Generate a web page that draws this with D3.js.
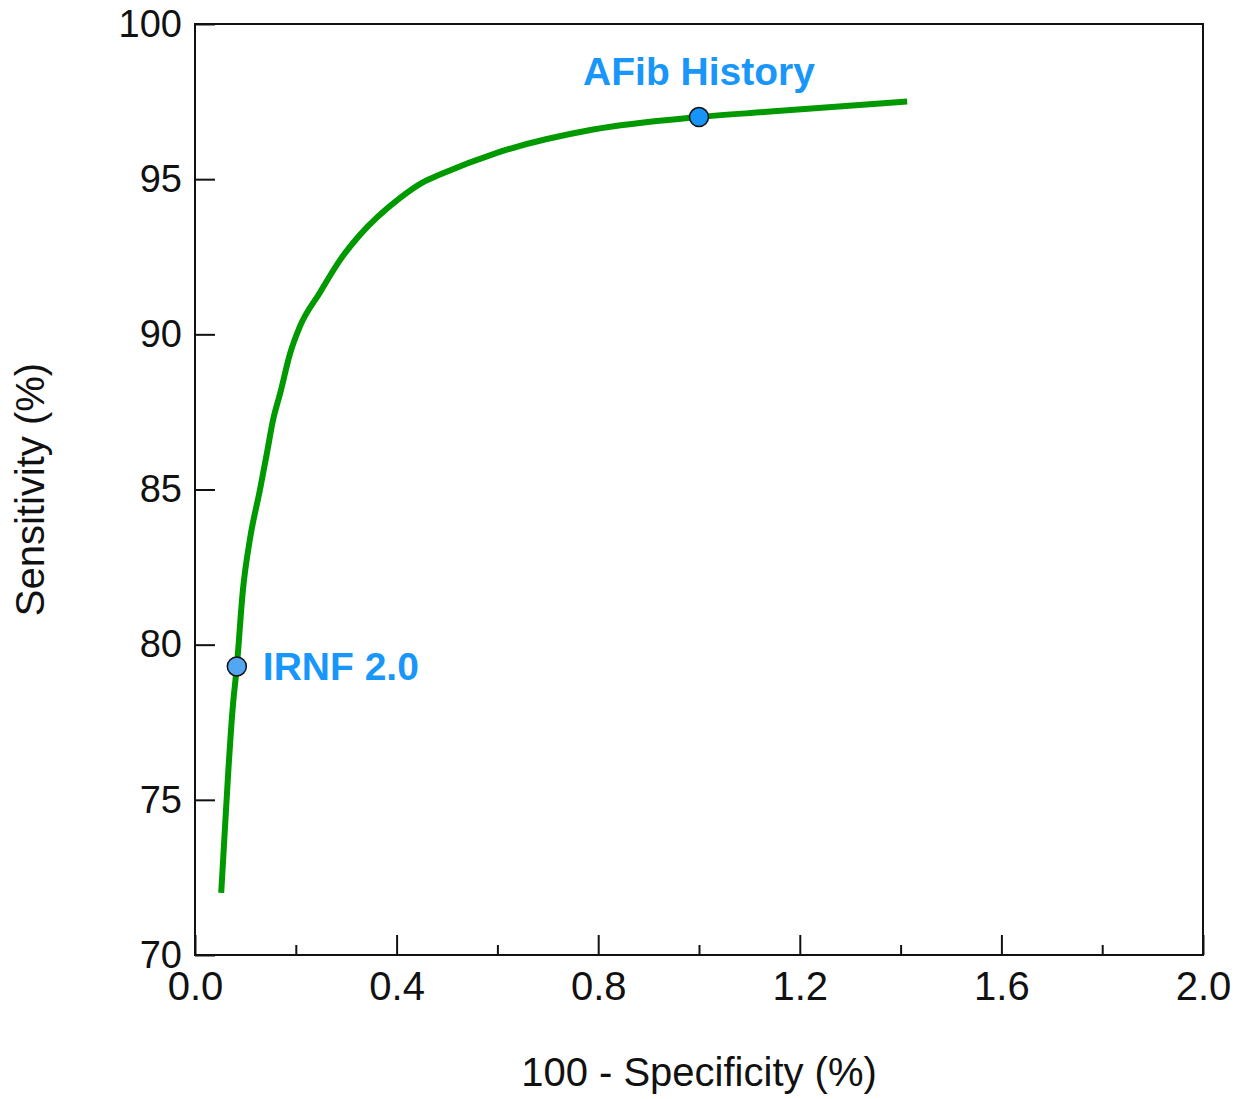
<!DOCTYPE html>
<html>
<head>
<meta charset="utf-8">
<script src="https://cdn.jsdelivr.net/npm/d3@7"></script>
<style>
  body { margin: 0; background: #fff; }
  svg text { font-family: "Liberation Sans", Arial, Helvetica, sans-serif; }
</style>
</head>
<body>
<div id="chart"></div>
<script>
// ROC curve: 100 - specificity (%) vs sensitivity (%)
const fpr = [0.052, 0.060, 0.066, 0.075, 0.083, 0.095, 0.109, 0.129, 0.143, 0.155, 0.169,
             0.189, 0.208, 0.248, 0.288, 0.327, 0.407, 0.452, 0.486, 0.599, 0.790, 0.998,
             1.135, 1.413];
const sens = [72.0, 74.25, 75.9, 78.0, 79.3, 81.75, 83.4, 85.0, 86.2, 87.25, 88.1,
              89.4, 90.25, 91.35, 92.4, 93.2, 94.4, 94.9, 95.15, 95.85, 96.6, 97.0,
              97.17, 97.5];

const markerNames = ["IRNF 2.0", "AFib History"];
const markerX = [0.083, 1.0];
const markerY = [79.3, 97.0];

const xMajor = [0, 0.4, 0.8, 1.2, 1.6, 2.0];
const xMinor = [0.2, 0.6, 1.0, 1.4, 1.8];
const yTicks = [70, 75, 80, 85, 90, 95, 100];

let width = 1242, height = 1099;
let margin = {top: 24, right: 39, bottom: 144, left: 195};
let w = width - margin.left - margin.right;
let h = height - margin.top - margin.bottom;

let svg = d3.select('#chart')
  .append('svg')
  .attr('width', width)
  .attr('height', height);

let g = svg.append('g')
  .attr('transform', 'translate(' + margin.left + ',' + margin.top + ')');

let x = d3.scaleLinear().domain([0, 2]).range([0, w]);
let y = d3.scaleLinear().domain([70, 100]).range([h, 0]);

// y axis, ticks pointing inward
let yAxis = g.append('g')
  .call(d3.axisLeft(y).tickValues(yTicks).tickSize(-20).tickSizeOuter(0).tickPadding(13));
yAxis.selectAll('text').style('font-size', '38px').attr('fill', '#111');

// x axis: major ticks with labels, minor ticks without
let xAxis = g.append('g')
  .attr('transform', 'translate(0,' + h + ')')
  .call(d3.axisBottom(x).tickValues(xMajor).tickSize(-20).tickSizeOuter(0).tickPadding(17)
    .tickFormat(d3.format('.1f')));
xAxis.selectAll('text').style('font-size', '40px').attr('fill', '#111');

g.append('g')
  .attr('transform', 'translate(0,' + h + ')')
  .call(d3.axisBottom(x).tickValues(xMinor).tickSize(-10).tickSizeOuter(0).tickFormat(''))
  .select('.domain').remove();

g.selectAll('.tick line').attr('stroke', '#111').attr('stroke-width', 2);
g.selectAll('.domain').remove();

// frame
g.append('rect')
  .attr('width', w)
  .attr('height', h)
  .attr('fill', 'none')
  .attr('stroke', '#111')
  .attr('stroke-width', 2);

// curve
let rows = fpr.map((d, i) => ({x: d, y: sens[i]}));
let line = d3.line()
  .x(d => x(d.x))
  .y(d => y(d.y))
  .curve(d3.curveMonotoneX);

g.append('path')
  .datum(rows)
  .attr('d', line)
  .attr('fill', 'none')
  .attr('stroke', '#009900')
  .attr('stroke-width', 6);

// marked operating points
let markers = markerNames.map((n, i) => ({name: n, x: markerX[i], y: markerY[i]}));
g.selectAll('circle.pt')
  .data(markers)
  .enter().append('circle')
  .attr('class', 'pt')
  .attr('cx', d => x(d.x))
  .attr('cy', d => y(d.y))
  .attr('r', 9.5)
  .attr('fill', (d, i) => i == 0 ? '#52a6f2' : '#1794f8')
  .attr('stroke', '#111')
  .attr('stroke-width', 1.5);

g.append('text')
  .text(markers[0].name)
  .attr('x', x(markers[0].x) + 26)
  .attr('y', y(markers[0].y) + 14)
  .style('font-size', '39px')
  .style('font-weight', 'bold')
  .attr('fill', '#1996fa');

g.append('text')
  .text(markers[1].name)
  .attr('x', x(markers[1].x))
  .attr('y', y(markers[1].y) - 32)
  .attr('text-anchor', 'middle')
  .style('font-size', '39px')
  .style('font-weight', 'bold')
  .attr('fill', '#1996fa');

// axis titles
svg.append('text')
  .text('100 - Specificity (%)')
  .attr('x', margin.left + w / 2)
  .attr('y', 1086)
  .attr('text-anchor', 'middle')
  .style('font-size', '40px')
  .attr('fill', '#111');

svg.append('text')
  .text('Sensitivity (%)')
  .attr('transform', 'translate(44,' + (margin.top + h / 2) + ') rotate(-90)')
  .attr('text-anchor', 'middle')
  .style('font-size', '40px')
  .attr('fill', '#111');
</script>
</body>
</html>
